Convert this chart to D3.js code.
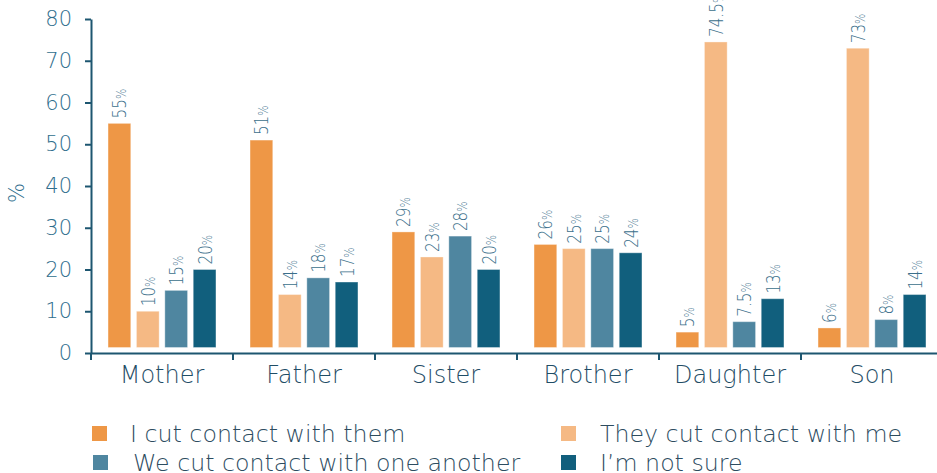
<!DOCTYPE html>
<html>
<head>
<meta charset="utf-8">
<script src="https://cdn.jsdelivr.net/npm/d3@7"></script>
<style>
  body { margin: 0; background: #fff; }
  svg { display: block; font-family: "DejaVu Sans", sans-serif; }
</style>
</head>
<body>
<div id="chart"></div>
<script>
const CATEGORIES = ["Mother", "Father", "Sister", "Brother", "Daughter", "Son"];
const SERIES = ["I cut contact with them", "They cut contact with me", "We cut contact with one another", "I\u2019m not sure"];
const I_CUT = [55, 51, 29, 26, 5, 6];
const THEY_CUT = [10, 14, 23, 25, 74.5, 73];
const WE_CUT = [15, 18, 28, 25, 7.5, 8];
const NOT_SURE = [20, 17, 20, 24, 13, 14];
const Y_TICKS = [0, 10, 20, 30, 40, 50, 60, 70, 80];

const VALUES = [I_CUT, THEY_CUT, WE_CUT, NOT_SURE];
const COLORS = ["#ee9746", "#f5b984", "#4f86a0", "#115f7d"];

const WIDTH = 937;
const HEIGHT = 473;
const LEFT = 91;
const RIGHT = 943;
const TOP = 19;
const BOTTOM = 353;

const svg = d3.select("#chart").append("svg")
  .attr("width", WIDTH)
  .attr("height", HEIGHT);

const x0 = d3.scaleBand()
  .domain(CATEGORIES)
  .range([LEFT, RIGHT])
  .padding(0);

const x1 = d3.scaleBand()
  .domain(d3.range(SERIES.length))
  .range([0, x0.bandwidth()])
  .paddingInner(0.2)
  .paddingOuter(0.6);

const y = d3.scaleLinear()
  .domain([0, 80])
  .range([BOTTOM, TOP]);

// flatten into rows for drawing
const rows = [];
CATEGORIES.forEach((c, ci) => {
  VALUES.forEach((arr, si) => {
    rows.push({ cat: c, s: si, v: arr[ci] });
  });
});

// bars (they stop a little above the axis line, like the original)
svg.append("g").selectAll("rect")
  .data(rows)
  .enter()
  .append("rect")
  .attr("x", d => x0(d.cat) + x1(d.s))
  .attr("width", x1.bandwidth())
  .attr("y", d => y(d.v))
  .attr("height", d => y(0) - 5.5 - y(d.v))
  .attr("fill", d => COLORS[d.s])
  .attr("stroke", "#fff")
  .attr("stroke-opacity", 0.35)
  .attr("stroke-width", 1);

// value labels, rotated and squeezed a bit (original font is narrow)
const labels = svg.append("g").selectAll("text")
  .data(rows)
  .enter()
  .append("text")
  .attr("transform", d => {
    const cx = x0(d.cat) + x1(d.s) + x1.bandwidth() / 2 + 7;
    return "translate(" + cx + "," + (y(d.v) - 5) + ") rotate(-90) scale(0.78,1)";
  })
  .attr("fill", "#3b6f8b")
  .attr("font-size", "19.5px")
  .attr("font-weight", 300);
labels.append("tspan").text(d => d.v);
labels.append("tspan").attr("font-size", "14px").text("%");

// y axis
const yAxis = svg.append("g")
  .attr("transform", "translate(" + LEFT + ",0)")
  .call(d3.axisLeft(y).tickValues(Y_TICKS).tickSize(6).tickSizeOuter(0).tickPadding(13));
yAxis.select(".domain").attr("stroke", "#1d5670").attr("stroke-width", 2);
yAxis.selectAll(".tick line").attr("stroke", "#1d5670").attr("stroke-width", 2);
yAxis.selectAll(".tick text")
  .attr("fill", "#2f6e8d")
  .attr("font-size", "21px")
  .attr("font-weight", 300)
  .attr("font-family", "DejaVu Sans, sans-serif");

svg.append("text")
  .attr("transform", "translate(24,193) rotate(-90)")
  .attr("text-anchor", "middle")
  .attr("fill", "#2f6e8d")
  .attr("font-size", "21px")
  .attr("font-weight", 300)
  .text("%");

// x axis
const xAxis = svg.append("g")
  .attr("transform", "translate(0," + BOTTOM + ")")
  .call(d3.axisBottom(x0).tickSize(0).tickSizeOuter(0).tickPadding(13));
xAxis.select(".domain").attr("stroke", "#1d5670").attr("stroke-width", 2);
xAxis.selectAll(".tick text")
  .attr("fill", "#1f4d66")
  .attr("font-size", "24px")
  .attr("font-weight", 300)
  .attr("font-family", "DejaVu Sans, sans-serif");

// boundary ticks between categories
xAxis.append("g").selectAll("line")
  .data(CATEGORIES)
  .enter()
  .append("line")
  .attr("x1", d => x0(d))
  .attr("x2", d => x0(d))
  .attr("y1", 0)
  .attr("y2", 7)
  .attr("stroke", "#1d5670")
  .attr("stroke-width", 2);

// legend
const legendPos = [[92, 426], [561, 426], [93, 455], [561, 455]];
const textX = [130, 600, 133, 600];
const legend = svg.append("g").selectAll("g")
  .data(SERIES)
  .enter()
  .append("g");
legend.append("rect")
  .attr("x", (d, i) => legendPos[i][0])
  .attr("y", (d, i) => legendPos[i][1])
  .attr("width", 15)
  .attr("height", 15)
  .attr("fill", (d, i) => COLORS[i]);
legend.append("text")
  .attr("x", (d, i) => textX[i])
  .attr("y", (d, i) => legendPos[i][1] + 16)
  .attr("fill", "#2d4c5f")
  .attr("font-size", "23.7px")
  .attr("font-weight", 300)
  .text(d => d);
</script>
</body>
</html>
